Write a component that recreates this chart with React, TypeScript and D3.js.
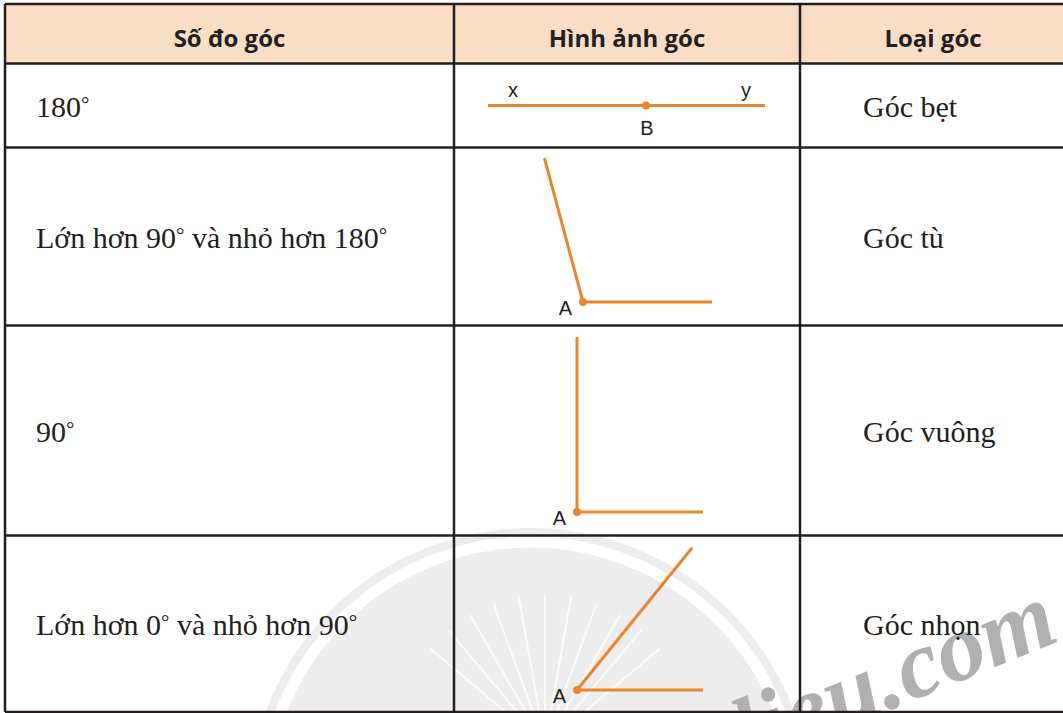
import * as d3 from 'd3'
import { useEffect } from 'react'

// table content
const headers = ['Số đo góc', 'Hình ảnh góc', 'Loại góc']
const measures = ['180°', 'Lớn hơn 90° và nhỏ hơn 180°', '90°', 'Lớn hơn 0° và nhỏ hơn 90°']
const angleNames = ['Góc bẹt', 'Góc tù', 'Góc vuông', 'Góc nhọn']
const angleDegrees = [180, 105, 90, 51]
const vertexNames = ['B', 'A', 'A', 'A']
const rayNames: (string[] | null)[] = [['y', 'x'], null, null, null]

// layout
const W = 1063
const H = 713
const colEdges = [5, 454, 800, 1066]
const rowEdges = [4, 63.5, 147.5, 325.5, 535.5, 712]
const vertexOffset = [
  [192, -42],
  [129, -23.5],
  [123, -23.5],
  [123, -22],
]
const armLengths = [
  [119, 158],
  [129, 149],
  [126, 175],
  [126, 183],
]

const ORANGE = '#E8862F'
const INK = '#231F20'
const HEADER_BG = '#F9DEC5'

// small raised degree sign like the printed table
function withDegree(s: string) {
  const parts = s.split('°')
  return parts.map((p, k) => (
    <tspan key={k}>
      {p}
      {k < parts.length - 1 && (
        <tspan fontSize={21} baselineShift="6">
          °
        </tspan>
      )}
    </tspan>
  ))
}

export default function App(): JSX.Element {
  useEffect(() => {
    document.body.style.margin = '0'
  }, [])

  const rad = d3.scaleLinear().domain([0, 180]).range([0, Math.PI])
  const line = d3.line<[number, number]>()

  const rows = measures.map((m, i) => {
    const top = rowEdges[i + 1]
    const bottom = rowEdges[i + 2]
    const vx = colEdges[1] + vertexOffset[i][0]
    const vy = bottom + vertexOffset[i][1]
    const ends: [number, number][] = [
      [vx + armLengths[i][0], vy],
      [vx + armLengths[i][1] * Math.cos(rad(angleDegrees[i])), vy - armLengths[i][1] * Math.sin(rad(angleDegrees[i]))],
    ]
    return { m, name: angleNames[i], top, bottom, mid: (top + bottom) / 2, vx, vy, ends, i }
  })

  return (
    <svg width={W} height={H} style={{ display: 'block', background: '#fff' }}>
      {/* watermark */}
      <g>
        <circle cx={530} cy={810} r={282} fill="#ededed" />
        <circle cx={530} cy={810} r={268} fill="none" stroke="#fff" strokeWidth={11} />
        {d3.range(-50, 51, 10).map((a) => (
          <line
            key={a}
            x1={545 + 30 * Math.sin(rad(a))}
            y1={745 - 30 * Math.cos(rad(a))}
            x2={545 + 150 * Math.sin(rad(a))}
            y2={745 - 150 * Math.cos(rad(a))}
            stroke="#fff"
            strokeWidth={2}
            opacity={0.8}
          />
        ))}
        <text
          x={1062}
          y={640}
          textAnchor="end"
          transform="rotate(-22 1062 640)"
          fontFamily="Liberation Serif"
          fontWeight="bold"
          fontStyle="italic"
          fontSize={96}
          fill="#b0b0b0"
        >
          lieu.com
        </text>
      </g>

      <rect x={colEdges[0]} y={rowEdges[0]} width={colEdges[3] - colEdges[0]} height={rowEdges[1] - rowEdges[0]} fill={HEADER_BG} />

      {headers.map((h, c) => (
        <text
          key={h}
          x={(colEdges[c] + colEdges[c + 1]) / 2}
          y={47}
          textAnchor="middle"
          fontFamily="Open Sans"
          fontWeight="bold"
          fontSize={24}
          fill={INK}
        >
          {h}
        </text>
      ))}

      {rows.map((r) => (
        <g key={r.i}>
          <text x={36} y={r.mid + 11} fontFamily="Liberation Serif" fontSize={30} fill={INK}>
            {withDegree(r.m)}
          </text>
          <text x={863} y={r.mid + 11} fontFamily="Liberation Serif" fontSize={30} fill={INK}>
            {r.name}
          </text>
          {r.ends.map((e, k) => (
            <path key={k} d={line([[r.vx, r.vy], e]) ?? ''} stroke={ORANGE} strokeWidth={3} fill="none" />
          ))}
          <circle cx={r.vx} cy={r.vy} r={4} fill={ORANGE} />
          {rayNames[r.i] ? (
            <g fontFamily="Liberation Sans" fontSize={20} fill={INK} textAnchor="middle">
              <text x={r.ends[1][0] + 25} y={r.vy - 9}>{rayNames[r.i]![1]}</text>
              <text x={r.ends[0][0] - 19} y={r.vy - 9}>{rayNames[r.i]![0]}</text>
              <text x={r.vx + 1} y={r.vy + 29}>{vertexNames[r.i]}</text>
            </g>
          ) : (
            <text x={r.vx - 11} y={r.vy + 13} textAnchor="end" fontFamily="Liberation Sans" fontSize={20} fill={INK}>
              {vertexNames[r.i]}
            </text>
          )}
        </g>
      ))}

      {/* grid */}
      <g stroke={INK} strokeWidth={2.5}>
        {rowEdges.map((y, k) => (
          <line key={`h${k}`} x1={colEdges[0]} x2={colEdges[3]} y1={y} y2={y} />
        ))}
        {colEdges.map((x, k) => (
          <line key={`v${k}`} x1={x} x2={x} y1={rowEdges[0]} y2={rowEdges[rowEdges.length - 1]} />
        ))}
      </g>
    </svg>
  )
}
